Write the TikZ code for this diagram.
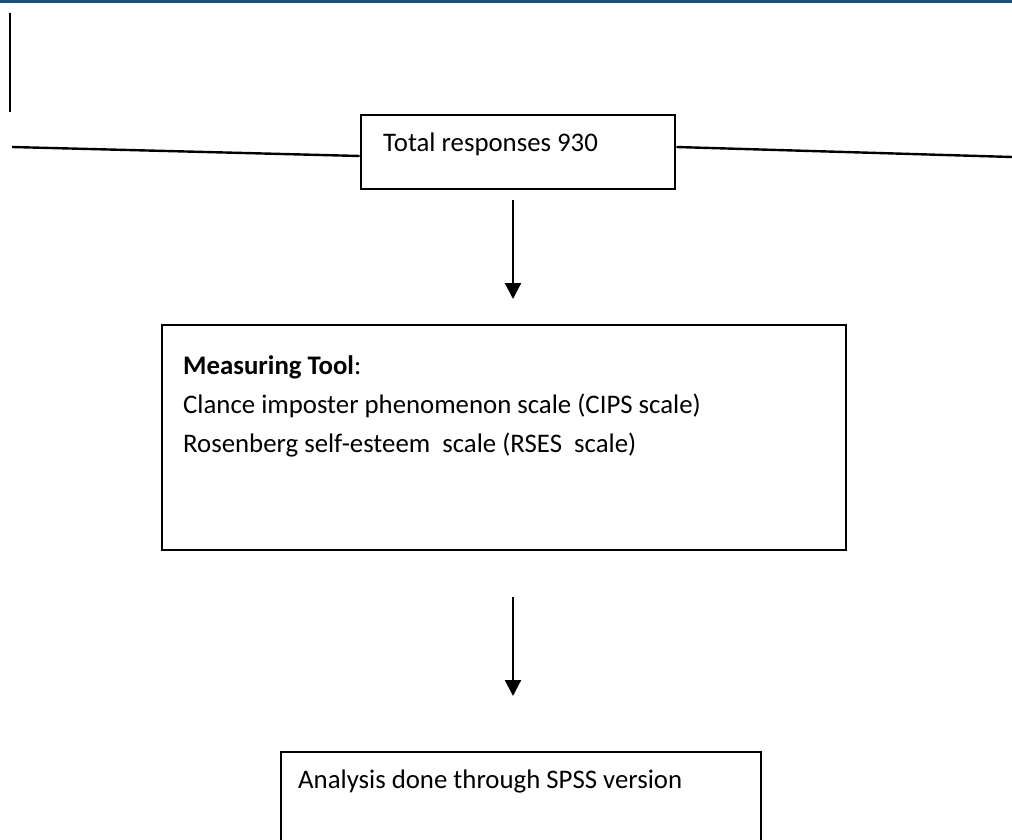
\documentclass[tikz,border=0pt]{standalone}
\usepackage{fontspec}
\setmainfont{Carlito}
\usetikzlibrary{arrows.meta}
\definecolor{barblue}{RGB}{31,78,121}
\tikzset{
  boxstyle/.style={draw=black, line width=2.8pt, rectangle, inner sep=0pt},
  txt/.style={anchor=base west, inner sep=0pt, font=\fontsize{26.8}{39}\selectfont},
  conn/.style={draw=black, line width=2.4pt},
  arr/.style={draw=black, line width=2.2pt, -{Triangle[width=16pt,length=16pt]}}
}
\begin{document}
\begin{tikzpicture}[x=1pt,y=-1pt]
\useasboundingbox (0,0) rectangle (1012,840);
\clip (0,0) rectangle (1012,840);
\fill[barblue] (0,0) rectangle (1012,3.5);
% boxes
\node[boxstyle, minimum width=314pt, minimum height=74pt] (b1) at (518,152) {};
\node[boxstyle, minimum width=684pt, minimum height=225pt] (b2) at (504,437.5) {};
\node[boxstyle, minimum width=480pt, minimum height=150pt] (b3) at (521,827) {};
% texts
\node[txt] (t1) at (383,151) {Total responses 930};
\node[txt] (t2) at (183,374) {\textbf{Measuring Tool}:};
\node[txt] (t3) at (183,413) {Clance imposter phenomenon scale (CIPS scale)};
\node[txt] (t4) at (183,452) {Rosenberg self-esteem\ \ scale (RSES\ \ scale)};
\node[txt] (t5) at (298,788) {Analysis done through SPSS version};
% free lines
\coordinate (v1) at (10,13);
\coordinate (v2) at (10,112);
\draw[conn, line width=2.8pt] (v1) -- (v2);
\coordinate (l1) at (12,147);
\coordinate (r1) at (1012,157);
\draw[conn] (l1) -- ([yshift=-4pt]b1.west);
\draw[conn] ([yshift=5pt]b1.east) -- (r1);
% arrows
\coordinate (a1s) at (513,200);
\coordinate (a1e) at (513,299);
\coordinate (a2s) at (513,597);
\coordinate (a2e) at (513,696);
\draw[arr] (a1s) -- (a1e);
\draw[arr] (a2s) -- (a2e);
\end{tikzpicture}
\end{document}
